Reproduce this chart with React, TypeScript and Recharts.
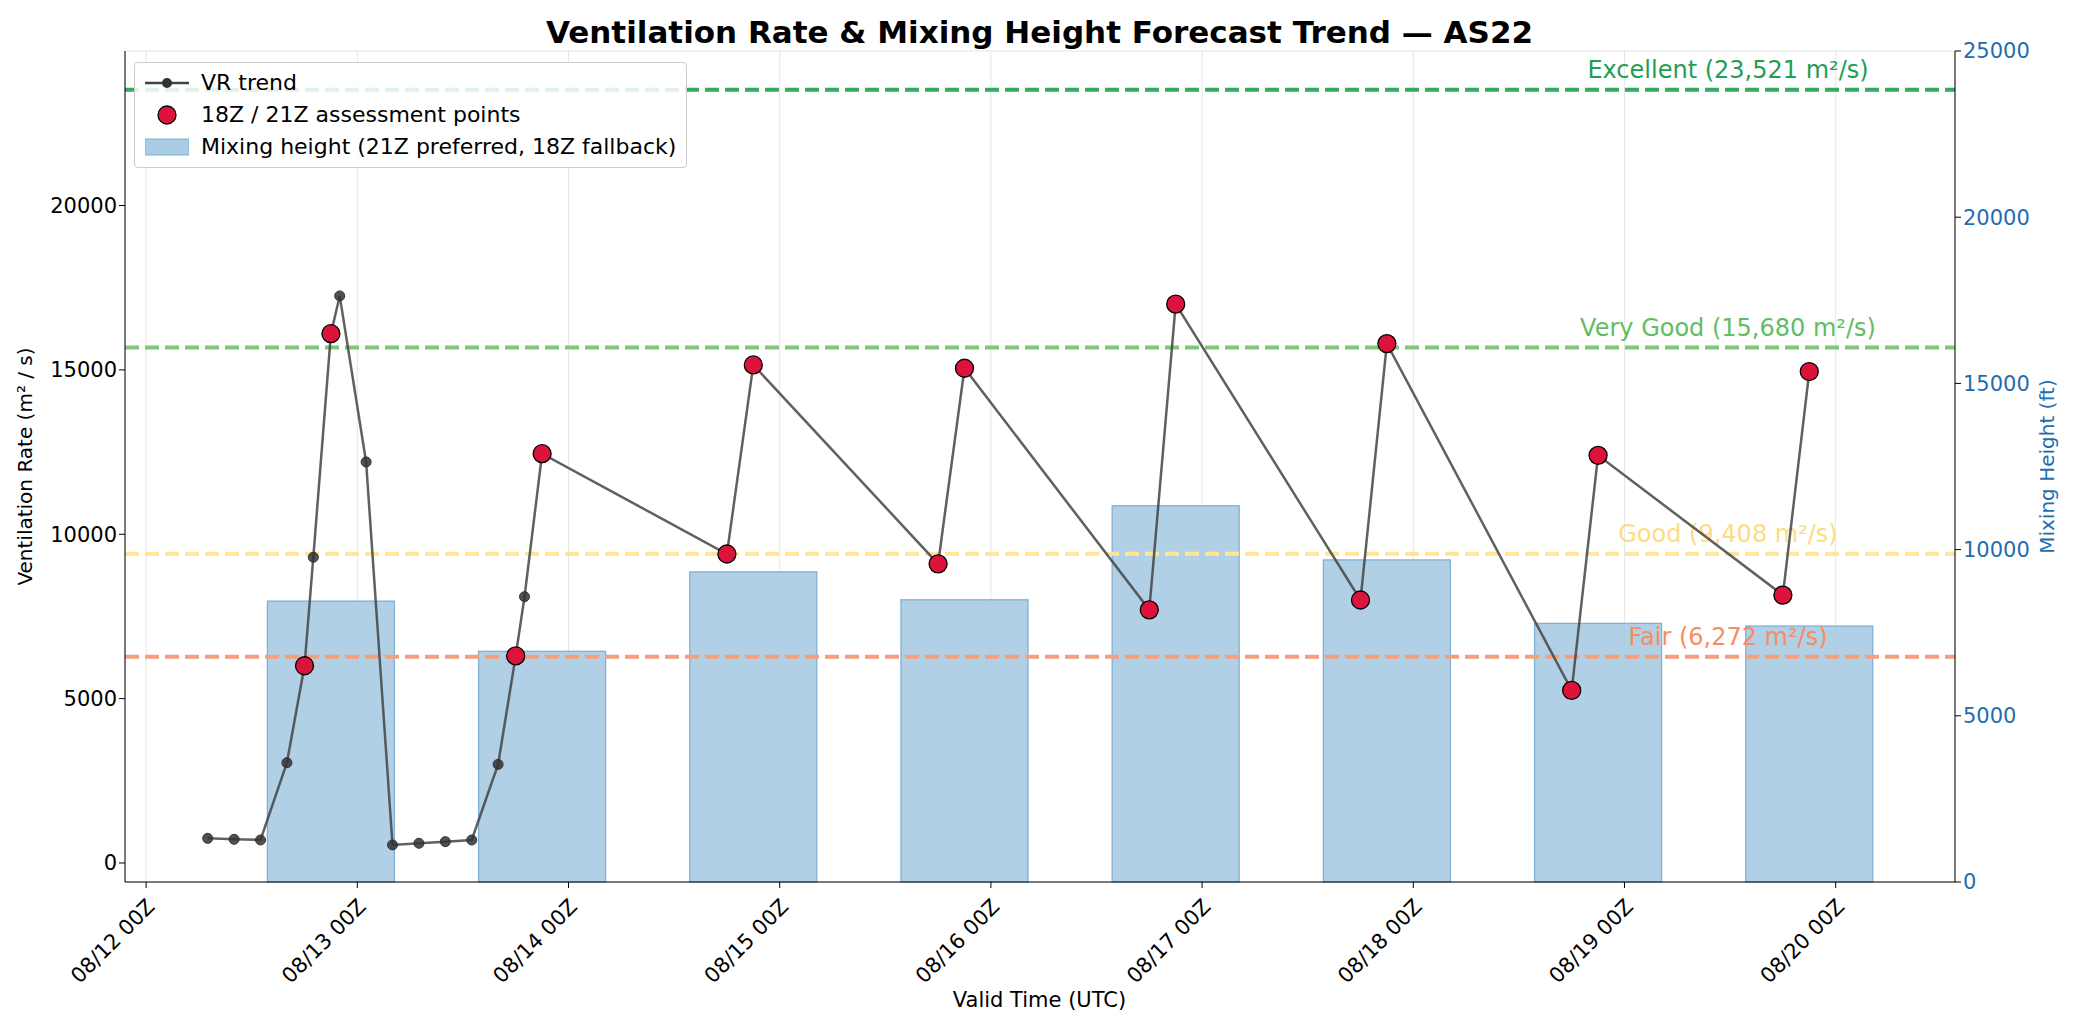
import React from 'react';
import { ComposedChart, Bar, Line, XAxis, YAxis, CartesianGrid, ReferenceLine } from 'recharts';

const hours = [7, 10, 13, 16, 18, 19, 21, 22, 25, 28, 31, 34, 37, 40, 42, 43, 45, 66, 69, 90, 93, 114, 117, 138, 141, 162, 165, 186, 189];
const vrValues = [750, 720, 700, 3050, 6000, 9300, 16100, 17250, 12200, 550, 600, 650, 700, 3000, 6300, 8100, 12450, 9400, 15150, 9100, 15050, 7700, 17000, 8000, 15800, 5250, 12400, 8150, 14950];
const assessment = [0, 0, 0, 0, 1, 0, 1, 0, 0, 0, 0, 0, 0, 0, 1, 0, 1, 1, 1, 1, 1, 1, 1, 1, 1, 1, 1, 1, 1];
const mixHours = [21, 45, 69, 93, 117, 141, 165, 189];
const mixHeights = [8450, 6940, 9330, 8490, 11320, 9690, 7780, 7700];
const xTickDays = [0, 1, 2, 3, 4, 5, 6, 7, 8];
const xTickLabels = ['08/12 00Z', '08/13 00Z', '08/14 00Z', '08/15 00Z', '08/16 00Z', '08/17 00Z', '08/18 00Z', '08/19 00Z', '08/20 00Z'];
const thresholds = [
  { name: 'Excellent', value: 23521, line: '#35a862', text: '#1f9e55' },
  { name: 'Very Good', value: 15680, line: '#80c77c', text: '#62bd62' },
  { name: 'Good', value: 9408, line: '#fde59a', text: '#fddc84' },
  { name: 'Fair', value: 6272, line: '#f3a07f', text: '#f98b60' },
];

const data = hours.map((h, i) => {
  const mi = mixHours.indexOf(h);
  return {
    t: h / 24,
    vr: vrValues[i],
    red: assessment[i] ? vrValues[i] : undefined,
    mh: mi >= 0 ? mixHeights[mi] : undefined,
    a: assessment[i],
  };
});

const font = 'DejaVu Sans, sans-serif';

const BlackDot = (p: any) => {
  if (p.payload.a) return <g key={p.key} />;
  return <circle key={p.key} cx={p.cx} cy={p.cy} r={5} fill="#333" fillOpacity={0.85} stroke="#333" />;
};

const XTick = (p: any) => {
  const i = xTickDays.indexOf(p.payload.value);
  return (
    <text x={p.x} y={p.y + 8} transform={`rotate(-45 ${p.x} ${p.y + 8})`} textAnchor="end" dy={14} fontSize={21} fontFamily={font} fill="#000">
      {xTickLabels[i]}
    </text>
  );
};

const BarShape = (p: any) => {
  if (p.height == null || !isFinite(p.height) || p.height <= 0) return <g />;
  const w = 127;
  return <rect x={p.x + p.width / 2 - w / 2} y={p.y} width={w} height={p.height} fill="#a9cbe3" fillOpacity={0.9} stroke="#7fb1d6" strokeWidth={1.3} />;
};

export default function App() {
  return (
    <div style={{ position: 'relative', width: 2063, height: 1016, fontFamily: font, background: '#fff' }}>
      <div style={{ position: 'absolute', top: 6, left: 0, width: 2063, textAlign: 'center', fontSize: 31, fontWeight: 'bold' }}>
        Ventilation Rate &amp; Mixing Height Forecast Trend — AS22
      </div>
      <ComposedChart width={2063} height={1016} data={data} margin={{ top: 43, right: 26, bottom: 32, left: 27 }}>
        <CartesianGrid stroke="#e6e6e6" />
        <XAxis dataKey="t" type="number" domain={[-0.1, 8.565]} ticks={xTickDays} allowDataOverflow tick={<XTick />} height={110} tickLine={{ stroke: '#000' }} axisLine={{ stroke: '#000' }} />
        <YAxis yAxisId="l" domain={[-578, 24700]} ticks={[0, 5000, 10000, 15000, 20000]} allowDataOverflow width={90} tick={{ fontSize: 21, fill: '#000', fontFamily: font }} tickLine={{ stroke: '#000' }} axisLine={{ stroke: '#000' }}
          label={{ value: 'Ventilation Rate (m² / s)', angle: -90, position: 'insideLeft', offset: -10, style: { textAnchor: 'middle', fontSize: 20, fill: '#000', fontFamily: font } }} />
        <YAxis yAxisId="r" orientation="right" domain={[0, 25000]} ticks={[0, 5000, 10000, 15000, 20000, 25000]} width={90} tick={{ fontSize: 21, fill: '#1f6db0', fontFamily: font }} tickLine={{ stroke: '#000' }} axisLine={{ stroke: '#000' }}
          label={{ value: 'Mixing Height (ft)', angle: -90, position: 'insideRight', offset: -2, style: { textAnchor: 'middle', fontSize: 20, fill: '#1f6db0', fontFamily: font } }} />
        <Bar yAxisId="r" dataKey="mh" shape={<BarShape />} isAnimationActive={false} />
        {thresholds.map((th) => (
          <ReferenceLine key={th.name} yAxisId="l" y={th.value} stroke={th.line} strokeWidth={4} strokeDasharray="14 6"
            label={(props: any) => (
              <text x={1720} y={props.viewBox.y - 12} textAnchor="middle" fontSize={24} fill={th.text} fontFamily={font}>
                {`${th.name} (${th.value.toLocaleString('en-US')} m²/s)`}
              </text>
            )} />
        ))}
        <Line yAxisId="l" dataKey="vr" stroke="#444" strokeOpacity={0.85} strokeWidth={2.5} dot={<BlackDot />} activeDot={false} isAnimationActive={false} />
        <Line yAxisId="l" dataKey="red" stroke="none" dot={{ r: 9, fill: '#dc143c', stroke: '#000', strokeWidth: 1.3 }} activeDot={false} isAnimationActive={false} />
      </ComposedChart>
      <div style={{ position: 'absolute', left: 0, width: 2063, textAlign: 'center', top: 980, fontSize: 21 }}>
        Valid Time (UTC)
      </div>
      <div style={{ position: 'absolute', left: 126, top: 54, border: '1px solid #ccc', borderRadius: 4, background: 'rgba(255,255,255,0.85)', padding: '4px 10px', fontSize: 22, lineHeight: '32px' }}>
        <div style={{ display: 'flex', alignItems: 'center' }}>
          <svg width={44} height={20} style={{ marginRight: 12 }}><line x1={0} y1={10} x2={44} y2={10} stroke="#444" strokeWidth={2.5} /><circle cx={22} cy={10} r={5} fill="#333" /></svg>VR trend
        </div>
        <div style={{ display: 'flex', alignItems: 'center' }}>
          <svg width={44} height={22} style={{ marginRight: 12 }}><circle cx={22} cy={11} r={9} fill="#dc143c" stroke="#000" strokeWidth={1.3} /></svg>18Z / 21Z assessment points
        </div>
        <div style={{ display: 'flex', alignItems: 'center' }}>
          <svg width={44} height={20} style={{ marginRight: 12 }}><rect x={0} y={2} width={44} height={16} fill="#a9cbe3" stroke="#7fb1d6" /></svg>Mixing height (21Z preferred, 18Z fallback)
        </div>
      </div>
    </div>
  );
}
